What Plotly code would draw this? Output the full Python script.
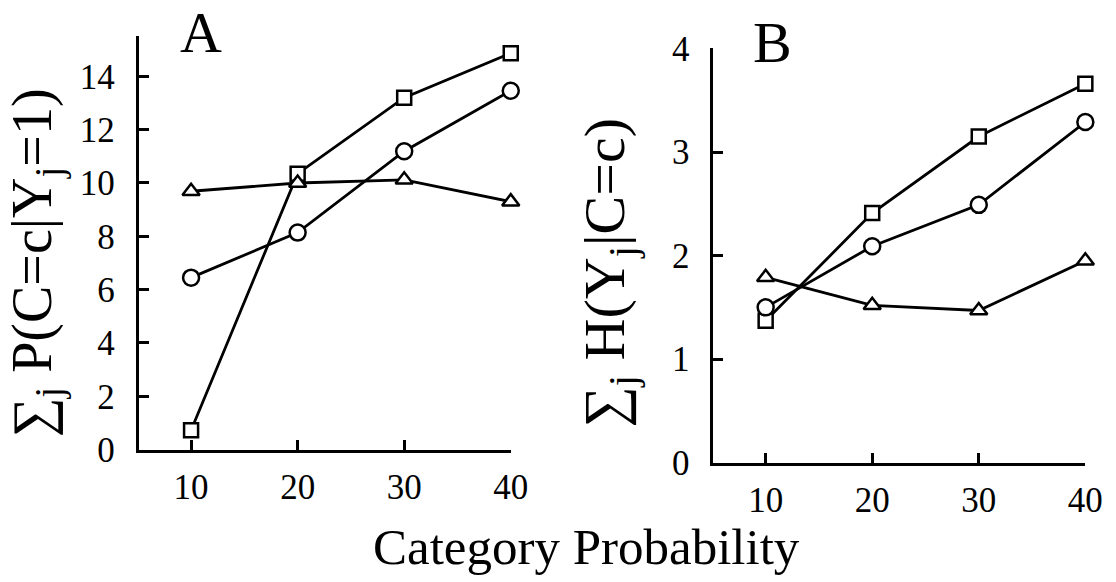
import plotly.graph_objects as go

# ---- data ----
category_prob = [10, 20, 30, 40]
x_ticks = [10, 20, 30, 40]

a_square = [0.73, 10.35, 13.2, 14.87]
a_circle = [6.45, 8.14, 11.19, 13.46]
a_triangle = [9.69, 10.0, 10.12, 9.3]
a_ticks = [0, 2, 4, 6, 8, 10, 12, 14]

b_square = [1.37, 2.41, 3.15, 3.66]
b_circle = [1.50, 2.09, 2.49, 3.29]
b_triangle = [1.79, 1.52, 1.47, 1.95]
b_ticks = [0, 1, 2, 3, 4]

W, H = 1116, 582
FONT = "Liberation Serif"


def fx(p):
    return p / W


def fy(p):
    return 1 - p / H


fig = go.Figure()

series = [
    ("square", 14, a_square, b_square),
    ("circle", 16, a_circle, b_circle),
    ("triangle-up", 15, a_triangle, b_triangle),
]
for sym, size, ya, yb in series:
    for vals, xa, ya_ref in ((ya, "x", "y"), (yb, "x2", "y2")):
        fig.add_trace(go.Scatter(
            x=category_prob, y=vals, xaxis=xa, yaxis=ya_ref,
            mode="lines+markers", cliponaxis=False, showlegend=False,
            line=dict(color="black", width=2.8),
            marker=dict(symbol=sym, size=size, color="white",
                        line=dict(color="black", width=2.5)),
        ))

axis_common = dict(
    showline=True, linecolor="black", linewidth=3,
    ticks="inside", ticklen=10, tickwidth=2.5, tickcolor="black",
    showgrid=False, zeroline=False,
    tickfont=dict(family=FONT, size=35, color="black"),
)

fig.update_layout(
    width=W, height=H,
    margin=dict(l=0, r=0, t=0, b=0),
    paper_bgcolor="white", plot_bgcolor="white",
    xaxis=dict(domain=[fx(133), fx(511)], range=[5.1, 40], tickvals=x_ticks,
               anchor="y", ticklabelstandoff=4, **axis_common),
    yaxis=dict(domain=[fy(453), fy(10)], range=[0, 15.5], tickvals=a_ticks,
               anchor="x", ticklabelstandoff=14, **axis_common),
    xaxis2=dict(domain=[fx(717), fx(1095)], range=[5.1, 40], tickvals=x_ticks,
                anchor="y2", ticklabelstandoff=4, **axis_common),
    yaxis2=dict(domain=[fy(467), fy(23)], range=[0, 4], tickvals=b_ticks,
                anchor="x2", ticklabelstandoff=14, **axis_common),
)

ann_font = dict(family=FONT, color="black")


def label(text, xp, yp, size, angle=0):
    fig.add_annotation(text=text, x=fx(xp), y=fy(yp), xref="paper", yref="paper",
                       xanchor="center", yanchor="middle", showarrow=False,
                       textangle=angle, font=dict(size=size, **ann_font))


label("A", 196, 6, 58)
label("B", 777, 17, 58)
label("Category Probability", 588, 557, 51)
label("∑<sub>j</sub> P(C=c|Y<sub>j</sub>=1)", 28, 253, 56, -90)
label("∑<sub>j</sub> H(Y<sub>j</sub>|C=c)", 610, 263, 58, -90)

fig.write_html("out.html")
